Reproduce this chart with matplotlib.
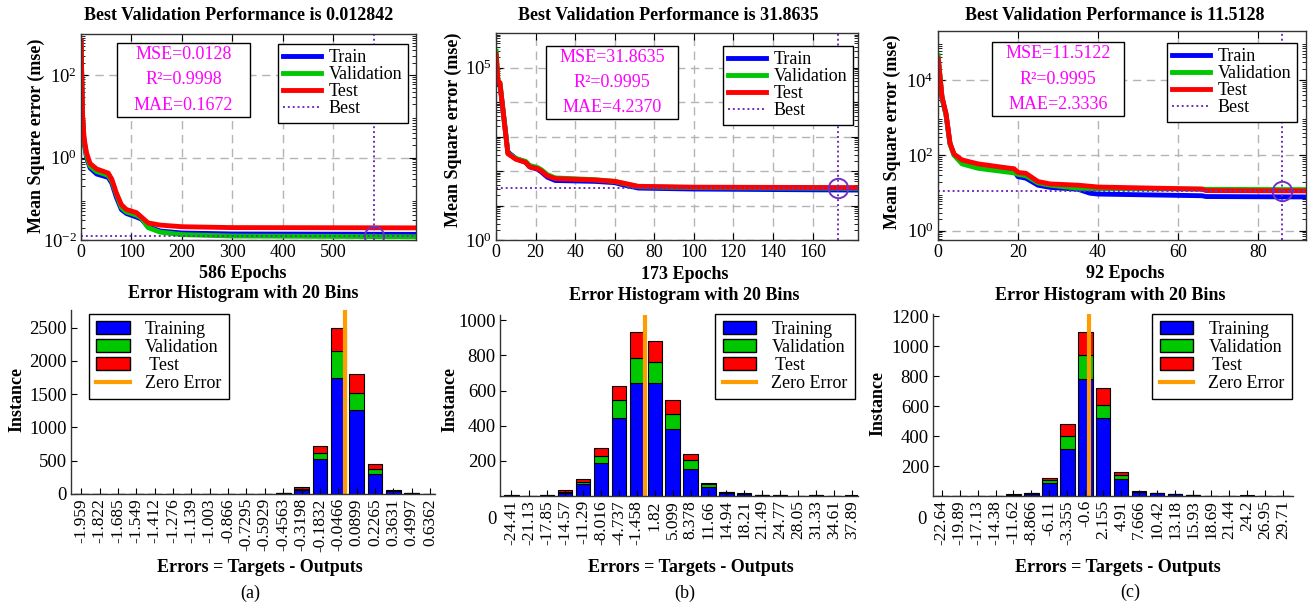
import numpy as np
import matplotlib
matplotlib.use("Agg")
import matplotlib.pyplot as plt
from matplotlib.patches import Rectangle, Patch
from matplotlib.lines import Line2D

plt.rcParams["font.family"] = "Liberation Serif"
plt.rcParams["mathtext.fontset"] = "custom"
plt.rcParams["mathtext.rm"] = "Liberation Serif"

W, H = 1312, 604

# ---------------- performance curves ----------------
titles = ["Best Validation Performance is 0.012842",
          "Best Validation Performance is 31.8635",
          "Best Validation Performance is 11.5128"]
epoch_labels = ["586 Epochs", "173 Epochs", "92 Epochs"]
metric_text = ["MSE=0.0128\nR²=0.9998\nMAE=0.1672",
               "MSE=31.8635\nR²=0.9995\nMAE=4.2370",
               "MSE=11.5122\nR²=0.9995\nMAE=2.3336"]
best_epoch = [580, 173, 86]
best_value = [0.012842, 31.8635, 11.5128]

epochs_a = [0, 3, 6, 11, 18, 31, 54, 61, 70, 80, 90, 110, 120, 133, 157, 200, 300, 664]
train_a = [750, 9, 2.4, 1.0, 0.56, 0.40, 0.33, 0.24, 0.11, 0.055, 0.044, 0.036, 0.032,
           0.021, 0.0165, 0.0148, 0.0140, 0.0137]
val_a = [700, 10, 2.6, 1.1, 0.62, 0.46, 0.37, 0.27, 0.13, 0.062, 0.048, 0.040, 0.034,
         0.020, 0.0155, 0.0135, 0.0125, 0.0120]
test_a = [790, 12, 3.0, 1.3, 0.72, 0.53, 0.42, 0.30, 0.14, 0.072, 0.055, 0.046, 0.036,
          0.026, 0.023, 0.021, 0.0200, 0.0197]

epochs_b = [0, 1, 2, 6, 10, 15, 17, 21, 23, 26, 30, 50, 60, 64, 72, 100, 183]
train_b = [2.5e5, 3.5e4, 3.2e4, 355, 230, 178, 132, 112, 93, 66, 53, 50, 46, 40, 32, 30, 28]
val_b = [3.5e5, 4.0e4, 3.6e4, 330, 230, 190, 145, 126, 108, 78, 63, 56, 50, 44, 35, 33, 31.5]
test_b = [2.8e5, 4.0e4, 3.6e4, 316, 219, 178, 132, 117, 100, 72, 60, 55, 50, 45, 36, 34, 33]

epochs_c = [0, 1, 2, 3, 4, 6, 10, 18, 19, 20, 22, 25, 28, 35, 38, 40, 66, 67, 92]
train_c = [40000, 3300, 1200, 200, 105, 68, 50, 39, 38, 27, 24.5, 16, 14, 12.5, 9.8, 9.3, 8.4, 8.0, 7.8]
val_c = [51000, 3400, 1200, 200, 100, 59, 45, 35, 34, 31, 28.5, 18.5, 16, 13.3, 13, 13, 12.6, 12.4, 12.2]
test_c = [42000, 3600, 1300, 210, 108, 75, 59, 45, 44, 35, 33, 20, 17.3, 16, 15, 14.3, 12.6, 11.5, 11.3]

perf_epochs = [epochs_a, epochs_b, epochs_c]
perf_train = [train_a, train_b, train_c]
perf_val = [val_a, val_b, val_c]
perf_test = [test_a, test_b, test_c]

perf_xlim = [(0, 664), (0, 183), (0, 92)]
perf_xticks = [[0, 100, 200, 300, 400, 500], list(range(0, 161, 20)), [0, 20, 40, 60, 80]]
perf_ylim = [(0.01, 1000), (1, 1e6), (0.56, 2e5)]
perf_yticks = [[1e-2, 1e0, 1e2], [1e0, 1e1, 1e2, 1e3, 1e4, 1e5], [1e0, 1e2, 1e4]]
perf_yticklabels = [[r"$\mathregular{10^{-2}}$", r"$\mathregular{10^{0}}$", r"$\mathregular{10^{2}}$"],
                    [r"$\mathregular{10^{0}}$", "", "", "", "", r"$\mathregular{10^{5}}$"],
                    [r"$\mathregular{10^{0}}$", r"$\mathregular{10^{2}}$", r"$\mathregular{10^{4}}$"]]

# ---------------- error histograms ----------------
bins_a = ["-1.959", "-1.822", "-1.685", "-1.549", "-1.412", "-1.276", "-1.139", "-1.003",
          "-0.866", "-0.7295", "-0.5929", "-0.4563", "-0.3198", "-0.1832", "-0.0466",
          "0.0899", "0.2265", "0.3631", "0.4997", "0.6362"]
hist_train_a = [0, 0, 0, 0, 0, 0, 0, 0, 0, 0, 0, 12, 60, 525, 1740, 1265, 300, 40, 10, 1]
hist_val_a = [0, 0, 0, 0, 0, 0, 0, 0, 0, 0, 0, 3, 15, 85, 410, 250, 75, 8, 2, 0]
hist_test_a = [0, 0, 0, 0, 0, 0, 0, 0, 0, 0, 0, 4, 25, 115, 350, 285, 75, 12, 3, 0]

bins_b = ["-24.41", "-21.13", "-17.85", "-14.57", "-11.29", "-8.016", "-4.737", "-1.458",
          "1.82", "5.099", "8.378", "11.66", "14.94", "18.21", "21.49", "24.77", "28.05",
          "31.33", "34.61", "37.89"]
hist_train_b = [2, 0, 2, 17, 66, 190, 446, 643, 643, 383, 156, 51, 17, 12, 3, 2, 1, 2, 0, 2]
hist_val_b = [1, 0, 1, 8, 14, 36, 99, 143, 118, 84, 51, 15, 3, 2, 1, 1, 0, 1, 0, 0]
hist_test_b = [0, 0, 1, 7, 19, 47, 81, 148, 123, 81, 34, 10, 3, 3, 1, 1, 1, 1, 1, 1]

bins_c = ["-22.64", "-19.89", "-17.13", "-14.38", "-11.62", "-8.866", "-6.11", "-3.355",
          "-0.6", "2.155", "4.91", "7.666", "10.42", "13.18", "15.93", "18.69", "21.44",
          "24.2", "26.95", "29.71"]
hist_train_c = [1, 1, 2, 1, 8, 15, 84, 311, 784, 518, 116, 27, 17, 12, 4, 2, 1, 3, 1, 1]
hist_val_c = [0, 0, 1, 0, 1, 2, 23, 87, 156, 91, 24, 3, 2, 2, 1, 1, 0, 0, 0, 1]
hist_test_c = [0, 0, 0, 1, 2, 3, 11, 82, 158, 113, 20, 6, 3, 2, 0, 0, 1, 1, 0, 0]

hist_bins = [bins_a, bins_b, bins_c]
hist_train = [hist_train_a, hist_train_b, hist_train_c]
hist_val = [hist_val_a, hist_val_b, hist_val_c]
hist_test = [hist_test_a, hist_test_b, hist_test_c]
hist_ylim = [2765, 1030, 1215]
hist_yticks = [[0, 500, 1000, 1500, 2000, 2500], [200, 400, 600, 800, 1000],
               [200, 400, 600, 800, 1000, 1200]]
panel_tags = ["(a)", "(b)", "(c)"]

BLUE, GREEN, RED = "#0000ff", "#00c800", "#ff0000"
ORANGE, PURPLE, MAGENTA = "#ff9c00", "#7030c0", "#ff00ff"

# ---------------- layout (pixels) ----------------
top_boxes = [(81, 34, 416, 240), (496, 33, 858, 240), (938, 31, 1306, 240)]
bot_boxes = [(71, 310, 435, 494), (500, 315, 858, 496), (933, 314, 1293, 496)]
bot_xlim = [(-0.56, 19.27), (-0.64, 19.35), (-0.48, 19.56)]
title_xy = [(239, 15), (668, 15), (1115, 15)]
epochs_xy = [(243, 274), (685, 275), (1125, 274)]
ylab_xy = [(36, 136), (453, 130), (892, 132)]
text_boxes = [(117, 43, 250, 117), (546, 46, 678, 119), (992, 42, 1124, 116)]
top_leg = [(408, 44), (853, 46), (1297, 43)]
htitle_xy = [(243, 294), (684, 295), (1110, 295)]
hxlab_xy = [(260, 567), (691, 567), (1118, 567)]
hylab_xy = [(17, 400), (450, 400), (878, 404)]
tag_xy = [(250, 593), (685, 593), (1130, 592)]
hist_leg = [("upper left", 89, 314), ("upper right", 855, 314), ("upper right", 1292, 314)]
zero_lab_xy = [None, (492, 520), (922, 520)]

BOLD = 13


def fx(x):
    return x / W


def fy(y):
    return 1 - y / H


def add_axes_px(fig, box):
    l, t, r, b = box
    return fig.add_axes([l / W, 1 - b / H, (r - l) / W, (b - t) / H])


fig = plt.figure(figsize=(W / 100, H / 100), dpi=100)

for i in range(3):
    ax = add_axes_px(fig, top_boxes[i])
    ep = perf_epochs[i]
    ax.plot(ep, perf_train[i], color=BLUE, lw=3.5, solid_capstyle="butt")
    ax.plot(ep, perf_val[i], color=GREEN, lw=3.5, solid_capstyle="butt")
    ax.plot(ep, perf_test[i], color=RED, lw=3.5, solid_capstyle="butt")
    ax.axhline(best_value[i], color=PURPLE, lw=1.4, ls=(0, (1, 1.5)))
    ax.axvline(best_epoch[i], color=PURPLE, lw=1.4, ls=(0, (1, 1.5)))
    ax.plot([best_epoch[i]], [best_value[i]], "o", ms=14, mfc="none", mec=PURPLE, mew=1.4)
    ax.set_yscale("log")
    ax.set_xlim(*perf_xlim[i])
    ax.set_ylim(*perf_ylim[i])
    ax.set_xticks(perf_xticks[i])
    ax.set_yticks(perf_yticks[i])
    ax.set_yticklabels(perf_yticklabels[i])
    ax.yaxis.set_minor_locator(matplotlib.ticker.LogLocator(base=10, subs=np.arange(2, 10), numticks=20))
    ax.yaxis.set_minor_formatter(matplotlib.ticker.NullFormatter())
    ax.tick_params(which="both", direction="in", top=True, right=True, labelsize=13, pad=3)
    ax.tick_params(axis="y", labelsize=13.5)
    ax.tick_params(which="major", length=5)
    ax.tick_params(which="minor", length=3)
    ax.grid(True, which="major", color="#b4b4b4", lw=1.0, ls=(0, (6, 4)))
    for s in ax.spines.values():
        s.set_linewidth(1.0)
        s.set_color("#333333")

    l, t, r, b = text_boxes[i]
    fig.patches.append(Rectangle((fx(l), fy(b)), (r - l) / W, (b - t) / H,
                                 transform=fig.transFigure, facecolor="white",
                                 edgecolor="black", lw=1.0, zorder=5))
    fig.text(fx((l + r) / 2), fy((t + b) / 2), metric_text[i], color=MAGENTA, fontsize=13,
             ha="center", va="center", multialignment="center", linespacing=1.62, zorder=6)

    handles = [Line2D([], [], color=BLUE, lw=3.5), Line2D([], [], color=GREEN, lw=3.5),
               Line2D([], [], color=RED, lw=3.5),
               Line2D([], [], color=PURPLE, lw=1.4, ls=(0, (1, 1.5)))]
    leg = ax.legend(handles, ["Train", "Validation", "Test", "Best"], loc="upper right",
                    bbox_to_anchor=(fx(top_leg[i][0]), fy(top_leg[i][1])),
                    bbox_transform=fig.transFigure, borderaxespad=0, fontsize=13,
                    handlelength=2.1, handletextpad=0.45, labelspacing=0.0, borderpad=0.3,
                    fancybox=False, framealpha=1, edgecolor="black")
    leg.get_frame().set_linewidth(1.0)

    fig.text(fx(title_xy[i][0]), fy(title_xy[i][1]), titles[i], fontsize=BOLD,
             fontweight="bold", ha="center", va="center")
    fig.text(fx(epochs_xy[i][0]), fy(epochs_xy[i][1]), epoch_labels[i], fontsize=BOLD,
             fontweight="bold", ha="center", va="center")
    fig.text(fx(ylab_xy[i][0]), fy(ylab_xy[i][1]), "Mean Square error (mse)", fontsize=BOLD,
             fontweight="bold", ha="center", va="center", rotation=90)

for i in range(3):
    ax = add_axes_px(fig, bot_boxes[i])
    idx = np.arange(len(hist_bins[i]))
    tr = np.array(hist_train[i])
    va = np.array(hist_val[i])
    te = np.array(hist_test[i])
    ax.bar(idx, tr, width=0.8, color=BLUE, edgecolor="black", lw=0.8)
    ax.bar(idx, va, width=0.8, bottom=tr, color=GREEN, edgecolor="black", lw=0.8)
    ax.bar(idx, te, width=0.8, bottom=tr + va, color=RED, edgecolor="black", lw=0.8)
    centers = np.array([float(s) for s in hist_bins[i]])
    zero_pos = np.interp(0.0, centers, idx)
    ax.axvline(zero_pos, color=ORANGE, lw=3)
    ax.set_xlim(*bot_xlim[i])
    ax.set_ylim(0, hist_ylim[i])
    ax.set_xticks(idx)
    ax.set_xticklabels(hist_bins[i], rotation=90, fontsize=12.5)
    ax.set_yticks(hist_yticks[i])
    ax.tick_params(axis="y", labelsize=13.5)
    ax.tick_params(direction="in", length=4, pad=3)
    ax.spines["top"].set_visible(False)
    ax.spines["right"].set_visible(False)
    for s in ("left", "bottom"):
        ax.spines[s].set_linewidth(1.0)
        ax.spines[s].set_color("#333333")

    handles = [Patch(facecolor=BLUE, edgecolor="black"), Patch(facecolor=GREEN, edgecolor="black"),
               Patch(facecolor=RED, edgecolor="black"), Line2D([], [], color=ORANGE, lw=3)]
    loc, lx, ly = hist_leg[i]
    leg = ax.legend(handles, ["Training", "Validation", " Test", "Zero Error"], loc=loc,
                    bbox_to_anchor=(fx(lx), fy(ly)), bbox_transform=fig.transFigure,
                    borderaxespad=0, fontsize=13, handlelength=1.85, handleheight=0.72,
                    handletextpad=0.85, labelspacing=0.05, borderpad=0.4, fancybox=False,
                    framealpha=1, edgecolor="black")
    leg.get_frame().set_linewidth(1.0)

    if zero_lab_xy[i] is not None:
        fig.text(fx(zero_lab_xy[i][0]), fy(zero_lab_xy[i][1]), "0", fontsize=13.5,
                 ha="center", va="center")

    fig.text(fx(htitle_xy[i][0]), fy(htitle_xy[i][1]), "Error Histogram with 20 Bins",
             fontsize=BOLD, fontweight="bold", ha="center", va="center")
    fig.text(fx(hxlab_xy[i][0]), fy(hxlab_xy[i][1]), "Errors = Targets - Outputs",
             fontsize=BOLD, fontweight="bold", ha="center", va="center")
    fig.text(fx(hylab_xy[i][0]), fy(hylab_xy[i][1]), "Instance", fontsize=BOLD,
             fontweight="bold", ha="center", va="center", rotation=90)
    fig.text(fx(tag_xy[i][0]), fy(tag_xy[i][1]), panel_tags[i], fontsize=13,
             ha="center", va="center")

fig.savefig("out.png", dpi=100)
